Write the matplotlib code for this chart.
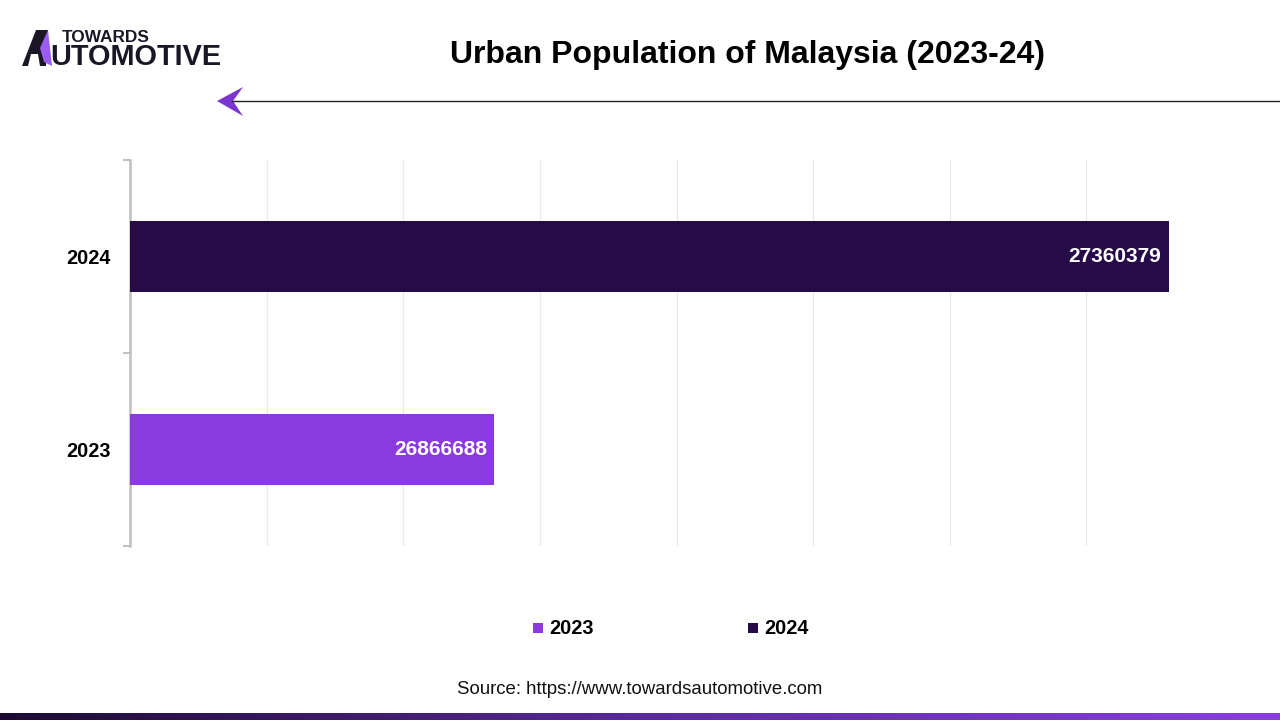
import matplotlib.pyplot as plt
import numpy as np
from matplotlib.patches import Polygon, Rectangle
from matplotlib.colors import LinearSegmentedColormap

# datos
years = ["2023", "2024"]
population = [26866688, 27360379]
bar_colors = ["#8a3ade", "#270a48"]
grid_ticks = [26700000, 26800000, 26900000, 27000000, 27100000, 27200000, 27300000]

plt.rcParams["font.family"] = ["Liberation Sans", "DejaVu Sans"]

fig = plt.figure(figsize=(12.8, 7.2), dpi=100)
W, H = 1280, 720

# ejes principales (coordenadas en pixeles -> fraccion)
ax = fig.add_axes([130 / W, 1 - 546 / H, (1223 - 130) / W, (546 - 160) / H])
pos = np.arange(len(years))
ax.barh(pos, population, height=0.365, color=bar_colors, zorder=3)
ax.set_xlim(26600000, 27400000)
ax.set_ylim(-0.5, 1.5)

for p, v in zip(pos, population):
    ax.text(v - 5500, p, str(v), ha="right", va="center", color="white",
            fontsize=15, fontweight="bold", zorder=4)

ax.set_xticks(grid_ticks)
ax.tick_params(axis="x", length=0, labelbottom=False)
ax.grid(axis="x", color="#e8e8e8", linewidth=0.9, zorder=0)

# ticks de categoria en los bordes
ax.set_yticks([-0.5, 0.5, 1.5])
ax.set_yticklabels([])
ax.tick_params(axis="y", length=5, color="#bfbfbf", width=1.5)
ax.set_yticks(pos, minor=True)
ax.set_yticklabels(years, minor=True, fontsize=14.3, fontweight="bold")
ax.tick_params(axis="y", which="minor", length=0, pad=14)

for s in ["top", "right", "bottom"]:
    ax.spines[s].set_visible(False)
ax.spines["left"].set_color("#bfbfbf")
ax.spines["left"].set_linewidth(1.8)

# titulo
fig.text(748 / W, 1 - 55 / H, "Urban Population of Malaysia (2023-24)",
         ha="center", va="center", fontsize=23, fontweight="bold")

# linea con flecha
fig.add_artist(plt.Line2D([232 / W, 1.0], [1 - 101 / H, 1 - 101 / H],
                          color="#222222", linewidth=1.0))
fig.add_artist(Polygon([[217 / W, 1 - 101 / H], [243 / W, 1 - 87 / H],
                        [233 / W, 1 - 101 / H], [243 / W, 1 - 116 / H]],
                       closed=True, facecolor="#7b35d0", edgecolor="none",
                       transform=fig.transFigure))

# logo
fig.add_artist(Polygon([[22 / W, 1 - 66 / H], [36 / W, 1 - 30 / H],
                        [48 / W, 1 - 30 / H], [46 / W, 1 - 66 / H],
                        [40 / W, 1 - 66 / H], [38 / W, 1 - 54 / H],
                        [31 / W, 1 - 54 / H], [28 / W, 1 - 66 / H]],
                       closed=True, facecolor="#1a1626", edgecolor="none",
                       transform=fig.transFigure))
fig.add_artist(Polygon([[40 / W, 1 - 48 / H], [48 / W, 1 - 30 / H],
                        [52 / W, 1 - 66 / H], [44 / W, 1 - 62 / H]],
                       closed=True, facecolor="#9b5cf0", edgecolor="none",
                       transform=fig.transFigure))
fig.text(62 / W, 1 - 37 / H, "TOWARDS", ha="left", va="center",
         fontsize=12.4, fontweight="bold", color="#1a1626")
fig.text(50 / W, 1 - 57 / H, "UTOMOTIVE", ha="left", va="center",
         fontsize=20.8, fontweight="bold", color="#1a1626")

# leyenda
legend_x = [538, 753]
for lx, yr, c in zip(legend_x, years, bar_colors):
    fig.add_artist(Rectangle(((lx - 5) / W, 1 - 633 / H), 10 / W, 10 / H,
                             facecolor=c, edgecolor="none",
                             transform=fig.transFigure))
    fig.text((lx + 11) / W, 1 - 628 / H, yr, ha="left", va="center",
             fontsize=14.3, fontweight="bold")

# fuente
fig.text(640 / W, 1 - 689 / H, "Source: https://www.towardsautomotive.com",
         ha="center", va="center", fontsize=13.4, color="#111111")

# barra degradada inferior
grad_ax = fig.add_axes([0, 0, 1, 7 / H])
grad = np.linspace(0, 1, 256).reshape(1, -1)
cmap = LinearSegmentedColormap.from_list("g", ["#1c0a33", "#5a2a99", "#8b3ee0"])
grad_ax.imshow(grad, aspect="auto", cmap=cmap, extent=[0, 1, 0, 1])
grad_ax.axis("off")

fig.savefig("out.png", dpi=100)
